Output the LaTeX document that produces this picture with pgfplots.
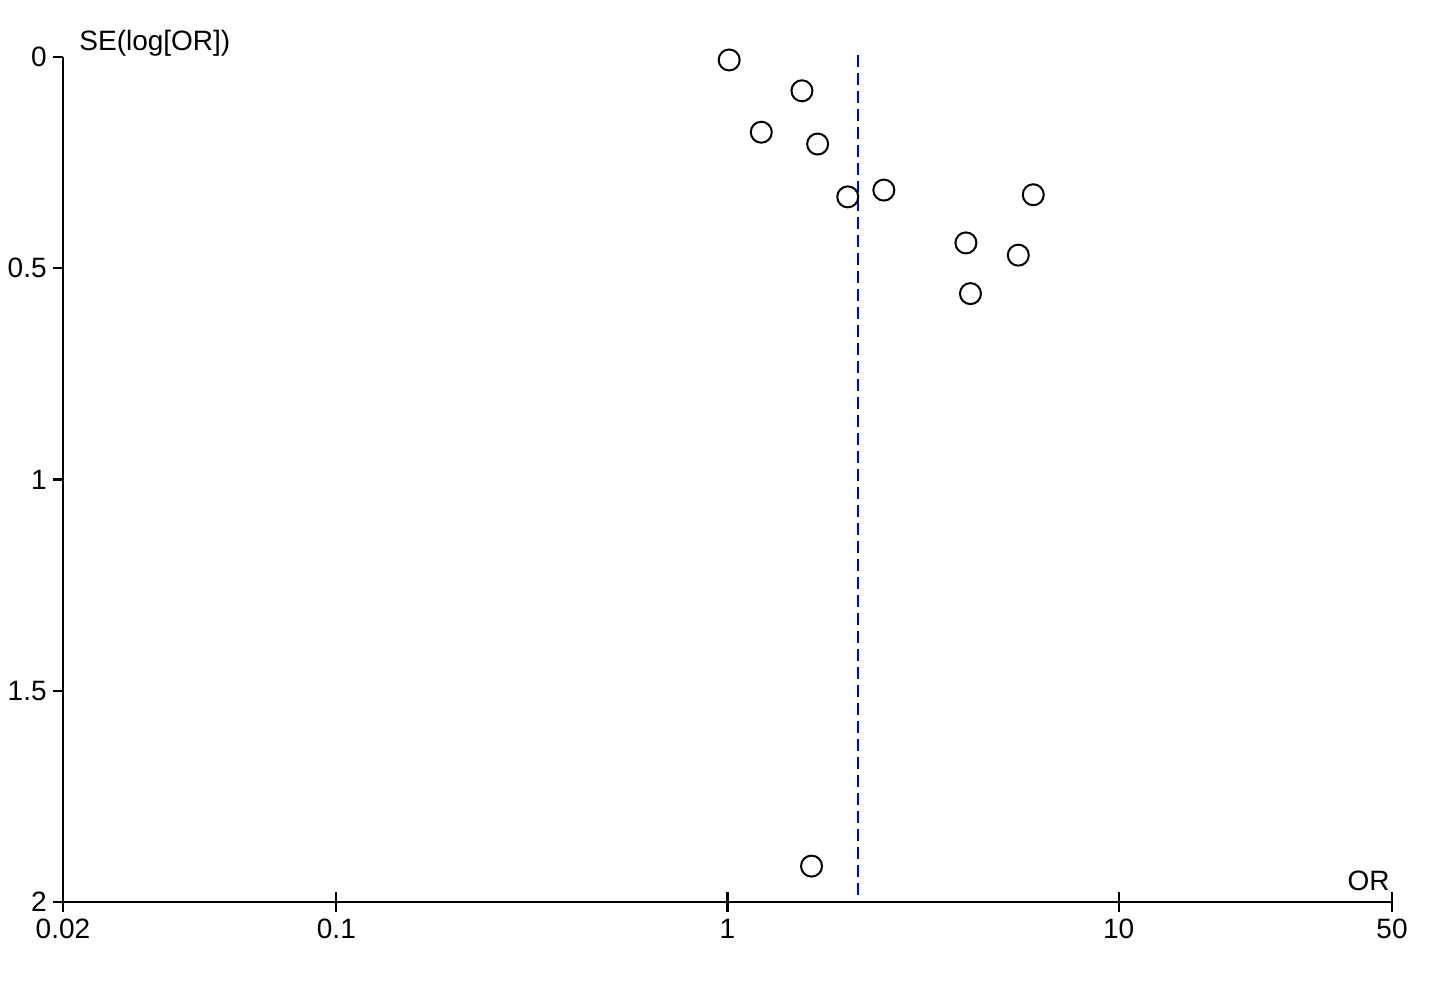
\documentclass[border=0pt]{standalone}
\usepackage{fontspec}
\setmainfont{Liberation Sans}
\usepackage{pgfplots}
\pgfplotsset{compat=1.18}
\definecolor{dashblue}{RGB}{0,0,205}
\begin{document}
\begin{tikzpicture}[x=1pt,y=1pt,font=\fontsize{14pt}{16pt}\selectfont]
\path[use as bounding box] (0,0) rectangle (721.5,498);
% axis 1: x axis, data
\begin{axis}[
 at={(31.5pt,47pt)}, anchor=south west, scale only axis,
 width=664.5pt, height=422.5pt,
 xmode=log, xmin=0.02, xmax=50, ymin=0, ymax=2, y dir=reverse,
 axis x line=bottom, hide y axis,
 x axis line style={-, line width=1.1pt, black},
 xtick={0.02,0.1,1,10,50}, xticklabels={0.02,0.1,1,10,50},
 minor xtick={},
 tick align=center, major tick length=10pt,
 x tick style={line width=1.1pt, black},
 xticklabel style={font=\fontsize{14pt}{16pt}\selectfont, inner sep=0pt, anchor=north, yshift=-3.5pt},
 /pgf/number format/assume math mode=true,
 clip=false,
]
\addplot[dashblue, line width=1pt, dash pattern=on 6pt off 3pt] coordinates {(2.16,-0.005) (2.16,1.985)};
\addplot[only marks, mark=o, mark size=5.25pt, mark options={line width=1pt, black}] coordinates {
(1.01,0.007)
(1.55,0.080)
(1.22,0.178)
(1.70,0.206)
(2.03,0.331)
(2.51,0.315)
(6.05,0.326)
(4.07,0.440)
(5.54,0.469)
(4.18,0.560)
(1.64,1.915)
};
\end{axis}
% axis 2: y axis
\begin{axis}[
 at={(31.5pt,47pt)}, anchor=south west, scale only axis,
 width=664.5pt, height=422.5pt,
 xmode=log, xmin=0.02, xmax=50, ymin=0, ymax=2, y dir=reverse,
 axis y line=left, hide x axis,
 y axis line style={-, line width=1.1pt, black},
 ytick={0,0.5,1,1.5,2}, yticklabels={0,0.5,1,1.5,2},
 tick align=outside, major tick length=5pt,
 y tick style={line width=1.1pt, black},
 yticklabel style={font=\fontsize{14pt}{16pt}\selectfont, inner sep=0pt, anchor=east, xshift=-3pt},
 clip=false,
]
\end{axis}
\node[anchor=base west, inner sep=0pt] at (39.5,472.5) {SE(log[OR])};
\node[anchor=base east, inner sep=0pt] at (695,53) {OR};
\end{tikzpicture}
\end{document}
